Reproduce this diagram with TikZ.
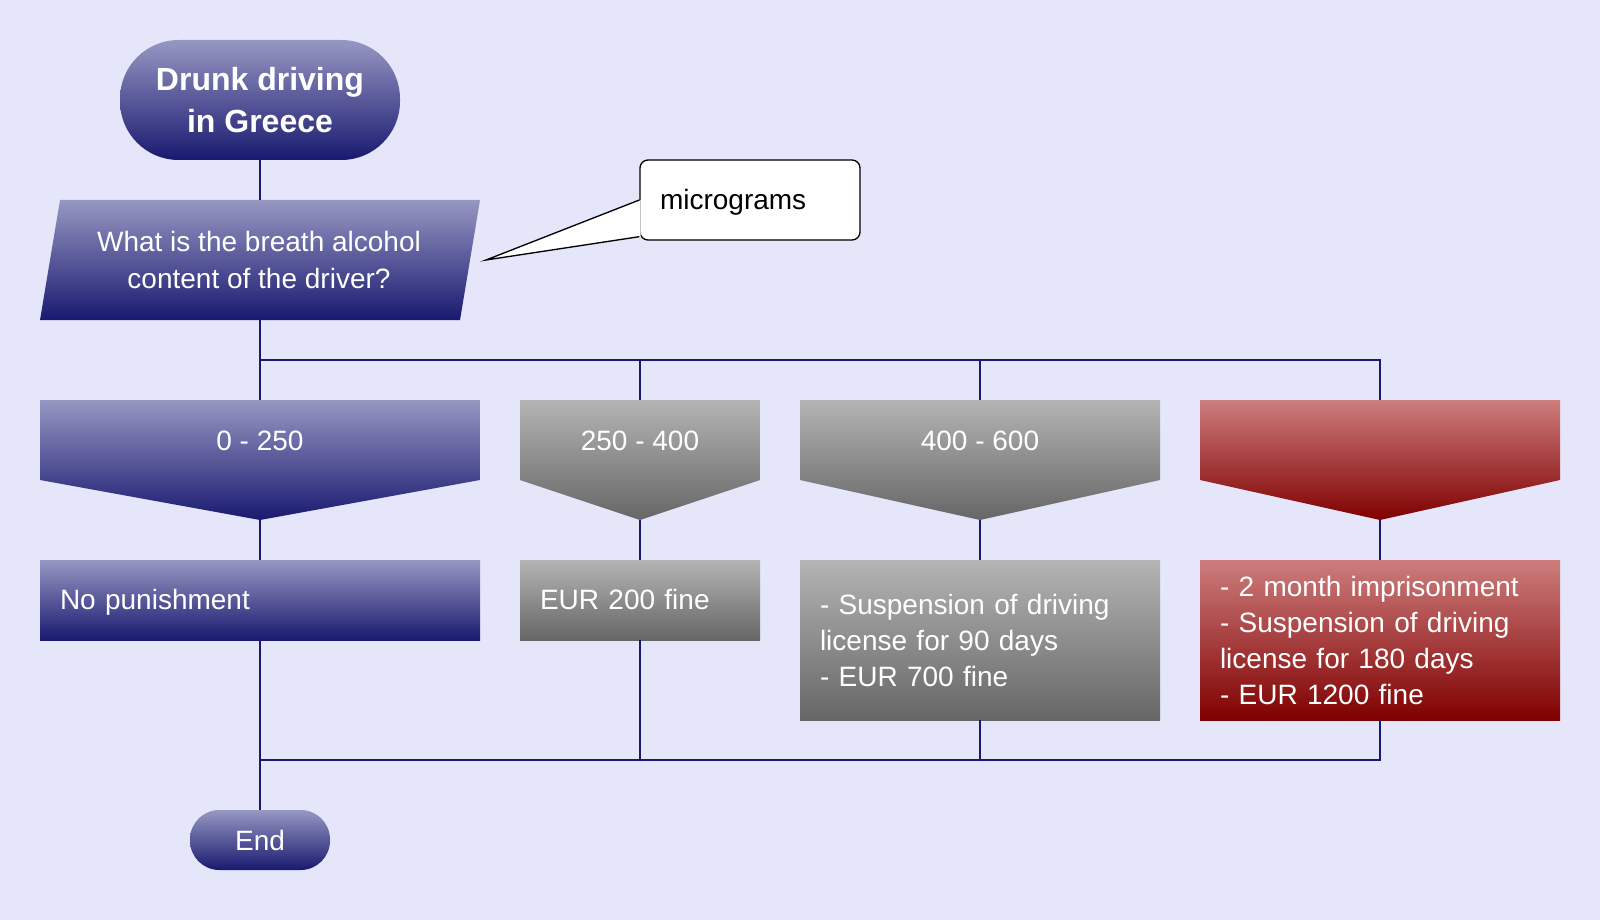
\documentclass[tikz,border=0pt]{standalone}
\usepackage{fontspec}
\setmainfont{Liberation Sans}
\definecolor{bgc}{HTML}{E6E6FA}
\definecolor{navy}{HTML}{191970}
\definecolor{blueT}{HTML}{9797C3}
\definecolor{grayT}{HTML}{B4B4B4}
\definecolor{grayB}{HTML}{666666}
\definecolor{redT}{HTML}{CD7D7D}
\definecolor{redB}{HTML}{800000}
\tikzset{
  blueshade/.style={top color=blueT,bottom color=navy},
  grayshade/.style={top color=grayT,bottom color=grayB},
  redshade/.style={top color=redT,bottom color=redB},
  txt/.style={text=white,font=\fontsize{21}{27}\selectfont},
  conn/.style={navy,line width=1pt},
  procbox/.style={txt,align=left,inner xsep=15pt,inner ysep=0pt,anchor=center},
  terminal/.style={blueshade,txt,align=center}
}

\begin{document}
\begin{tikzpicture}[x=0.75pt,y=-0.75pt]
  \fill[bgc] (0,0) rectangle (1600,920);
  \node[terminal,minimum width=210pt,minimum height=90pt,rounded corners=44pt,
    font=\fontsize{24}{31}\selectfont\bfseries] (S) at (260,100) {Drunk driving\\in Greece};
  \shade[blueshade] (60,200) -- (480,200) -- (460,320) -- (40,320) -- cycle;
  \node[txt,align=center,font=\fontsize{21}{27.75}\selectfont] (Q) at (259,260)
    {What is the breath alcohol\\content of the driver?};
  \coordinate (Qt) at (260,200);
  \coordinate (Qb) at (260,320);
  \foreach \n/\l/\r/\sh/\t in {1/40/480/blueshade/0 - 250,2/520/760/grayshade/250 - 400,
      3/800/1160/grayshade/400 - 600,4/1200/1560/redshade/{}}
    {\shade[\sh] (\l,400) -- (\r,400) -- (\r,480) -- ({(\l+\r)/2},520) -- (\l,480) -- cycle;
     \node[txt] (D\n) at ({(\l+\r)/2},441) {\t};
     \coordinate (H\n) at ({(\l+\r)/2},400);
     \coordinate (T\n) at ({(\l+\r)/2},520);}
  \node[procbox,blueshade,text width=300pt,minimum height=60pt,text height=19pt,text depth=5pt]
    (P1) at (260,600) {No punishment};
  \node[procbox,grayshade,text width=150pt,minimum height=60pt,text height=19pt,text depth=5pt]
    (P2) at (640,600) {EUR 200 fine};
  \node[procbox,grayshade,text width=240pt,minimum height=120pt] (P3) at (980,640)
    {- Suspension of driving\\license for 90 days\\- EUR 700 fine};
  \node[procbox,redshade,text width=240pt,minimum height=120pt] (P4) at (1380,640)
    {- 2 month imprisonment\\- Suspension of driving\\license for 180 days\\- EUR 1200 fine};
  \node[terminal,minimum width=105pt,minimum height=45pt,rounded corners=22pt] (E) at (260,840) {End};
  \coordinate (J) at (260,360);
  \coordinate (K) at (260,760);
  \draw[conn] (S) -- (Qt);
  \draw[conn] (Qb) -- (H1);
  \foreach \n in {2,3,4} \draw[conn] (J) -| (H\n);
  \foreach \n in {1,...,4} \draw[conn] (T\n) -- (P\n);
  \draw[conn] (P1) -- (E);
  \foreach \n in {2,3,4} \draw[conn] (P\n.south) |- (K);
  \node[draw=black,fill=white,line width=1pt,rounded corners=6pt,minimum width=165pt,
    minimum height=60pt,text width=135pt,inner xsep=15pt,align=left,text height=19pt,
    text depth=5pt,font=\fontsize{21}{27}\selectfont] (N) at (750,200) {micrograms};
  \coordinate (tip) at (486,260);
  \fill[white] ([xshift=1pt]N.west) -- (tip) -- ([xshift=1pt,yshift=3pt]N.south west) -- cycle;
  \draw[line width=1pt] (N.west) -- (tip) -- ([yshift=3pt]N.south west);
\end{tikzpicture}
\end{document}
